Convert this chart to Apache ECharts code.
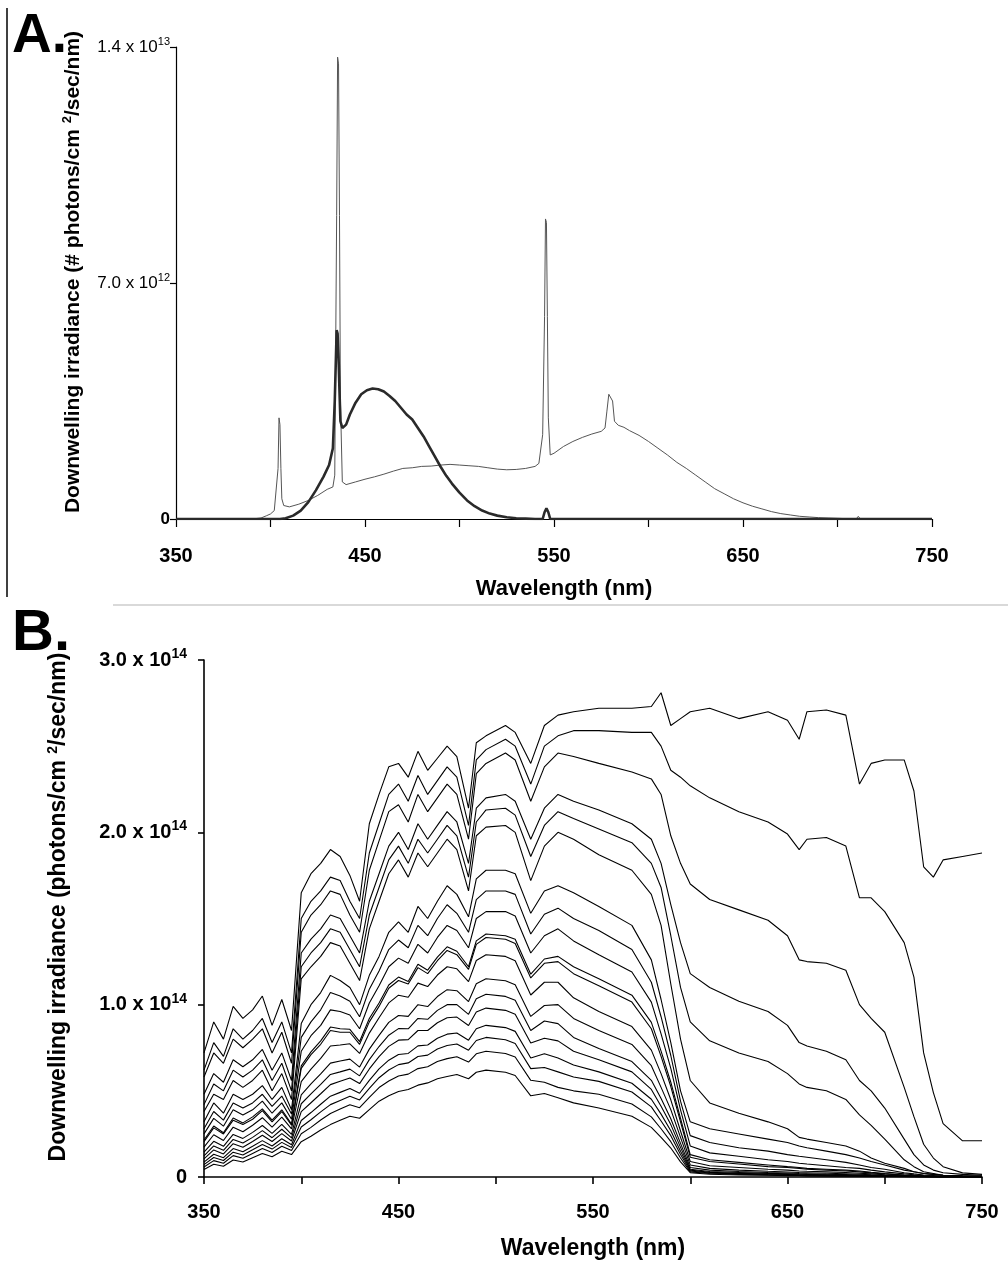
<!DOCTYPE html>
<html>
<head>
<meta charset="utf-8">
<script src="https://cdn.jsdelivr.net/npm/echarts@6/dist/echarts.min.js"></script>
<style>
html,body{margin:0;padding:0;background:#fff;}
#c{width:1008px;height:1272px;}
</style>
</head>
<body>
<div id="c"></div>
<script>
// ---------- Panel A data (units: 10^12 photons/cm2/sec/nm) ----------
const wlLamp = [350,390,395,398,400,402,403,404,404.5,405,405.5,406,407,410,415,420,425,430,433,434,435,435.5,436,436.5,437,438,440,445,450,455,460,465,470,475,480,485,490,495,500,505,510,515,520,525,530,535,540,542,544,545,545.5,546,546.5,547,548,550,555,560,565,570,575,577,578,579,580,581,582,584,587,590,595,600,605,610,615,620,625,630,635,640,645,650,655,660,665,670,675,680,685,690,695,700,705,710,711,712,720,750];
const irrLamp = [0,0,0.03,0.1,0.15,0.25,0.3,1.5,3.0,2.8,1.5,0.6,0.4,0.36,0.44,0.55,0.7,0.88,0.95,1.3,9,13.7,13.5,9,3.5,1.1,1.02,1.1,1.18,1.25,1.33,1.42,1.5,1.52,1.56,1.57,1.6,1.62,1.6,1.58,1.56,1.52,1.48,1.46,1.47,1.5,1.56,1.65,2.5,6,8.9,8.8,6,3,1.9,1.95,2.15,2.3,2.42,2.52,2.6,2.7,3.2,3.7,3.75,3.5,2.9,2.78,2.72,2.62,2.48,2.3,2.1,1.9,1.68,1.5,1.3,1.1,0.9,0.75,0.6,0.48,0.38,0.3,0.22,0.16,0.12,0.08,0.06,0.04,0.03,0.02,0.01,0.01,0.08,0.01,0,0];

const wlBlue = [350,405,408,412,416,420,424,428,431,433,434,435,435.5,436,436.5,437,438,440,442,445,448,451,454,457,460,463,466,469,472,475,478,481,484,487,490,493,496,500,504,508,512,516,520,525,530,535,540,544,545,546,547,548,550,750];
const irrBlue = [0,0,0.02,0.1,0.25,0.5,0.85,1.25,1.6,2.1,3.5,5.6,5.5,4.8,3.8,2.9,2.7,2.8,3.1,3.45,3.7,3.82,3.87,3.85,3.78,3.65,3.5,3.3,3.1,2.95,2.7,2.45,2.15,1.85,1.55,1.28,1.05,0.78,0.55,0.38,0.25,0.16,0.1,0.05,0.02,0.01,0,0,0.2,0.32,0.2,0,0,0];

const xTickLabels = [350,450,550,650,750];
const yTickValA = [0,7,14];
const yTickBaseA = ['0','7.0 x 10','1.4 x 10'];
const yTickExpA = ['','12','13'];

// ---------- Panel B data (units: 10^12 photons/cm2/sec/nm) ----------
const wlB = [350,355,360,365,370,375,380,385,390,395,400,405,410,415,420,425,430,435,440,445,450,455,460,465,470,475,480,486,490,495,505,510,518,525,532,540,553,570,580,585,590,595,600,610,625,640,650,656,660,670,680,687,693,700,710,715,720,725,730,740,750];

const depth01 = [72,90,80,99,92,97,105,88,103,85,165,176,182,190,186,175,160,205,222,238,240,232,247,236,243,250,244,214,252,256,262,258,240,262,268,270,272,272,273,281,262,266,270,272,266,270,265,254,270,271,268,228,240,242,242,224,180,174,184,186,188];
const depth02 = [62,78,70,86,80,85,92,78,90,72,150,160,166,174,172,160,150,188,205,222,228,218,233,222,230,238,232,204,242,248,254,250,228,250,256,259,259,258,258,250,236,232,227,220,212,206,199,190,196,197,192,162,162,154,136,116,72,49,31,21,21];
const depth03 = [58,72,66,80,75,80,86,72,84,66,142,152,158,166,164,152,142,178,195,212,216,206,222,212,220,228,222,196,234,240,246,242,218,238,246,244,240,235,231,222,198,182,170,161,155,149,140,126,125,124,120,100,92,84,52,35,19,11,6,2.4,1.5];
const depth04 = [48,60,55,68,64,68,74,62,72,56,130,138,144,152,150,140,130,160,176,192,200,190,205,196,204,212,206,182,214,220,222,218,196,214,222,218,213,205,196,182,158,136,118,110,102,96,88,78,76,73,68,56,50,40,22,13,7,4,2.5,1.5,1];
const depth05 = [42,54,50,62,58,62,68,56,66,50,122,130,136,144,142,132,122,152,168,184,192,182,196,188,196,204,198,174,206,213,214,210,186,204,212,208,202,194,182,168,140,110,90,79,72,67,60,54,52,50,45,36,30,22,10,6,3,2,1,0.7,0.5];
const depth06 = [38,48,45,56,52,56,62,50,60,45,115,122,128,136,134,124,114,144,160,176,184,174,188,180,188,196,190,166,198,203,204,200,172,192,200,196,187,178,164,146,112,80,56,43,37,32,28,23,22,20,18,15,11,8,5,3,2,1.5,1,0.7,0.5];
const depth07 = [32,43,37,48,45,48,53,45,52,39,89,100,107,117,114,110,100,117,128,142,148,142,157,150,160,169,164,151,173,178,178,176,153,166,169,165,157,146,126,103,78,50,32,28,25,22,20,18,17,15,13,11,9,7,4,3,2,1.5,1,0.6,0.3];
const depth08 = [28,38,33,43,40,43,48,41,47,36.5,81,90,97,107,105,102,93,109,119.5,132,137.5,133,146,140,150,158,153,142,161,166,166,164,141,152.5,156,150,143,132,113,93,70.5,44,24,20,17,15,13,12,11.5,10,8.5,7,5.5,4.5,2.5,1.8,1.2,0.9,0.6,0.4,0.2];
const depth09 = [25,34,29.5,39,36,39,44,37,43,33.5,73,82,88,97,96,94,86,101,111,122,127,124,135,130,139,146,143,133,150,154,154,151.5,130,140,144,137,129,119,101.5,83,63,39,18,14,12,10,9,8,7.5,6.5,5.5,5,4,3,1.8,1.3,0.9,0.6,0.4,0.2,0.1];
const depth10 = [21.5,29.6,25.7,34.2,31.4,34.9,39.5,33,39,30.7,64.5,72.6,79,87,86,85.7,78.6,92,101,111.4,116,113.5,123.4,120,127.6,133.6,131,122,137,141,140,138,117.7,126.5,128,122,115,105.5,89.7,73,55,34,13,10,8.5,7,6,5.5,5,4.5,4,3.5,2.8,2,1.2,0.9,0.6,0.4,0.3,0.2,0.1];
const depth11 = [20.5,28.5,25,33,30.5,33.5,38.5,32,38,30,63,71,77,85,84,84,77,90,99,109.5,114,112,121.5,118,125.5,131.5,129,120.5,135,139,138,135.5,115.5,124,125,118,111,101.5,86,70,52.5,32,11.5,9,7.5,6,5.5,5,4.5,4,3.5,3,2.4,1.8,1,0.8,0.5,0.3,0.2,0.15,0.1];
const depth12 = [17.3,24.5,21.2,28.9,26.3,30,34.4,29,34.7,27.9,55.3,62.6,68.8,76,76.6,77.3,71.7,83.5,92.4,101,105.5,104.3,112.5,110.5,117.2,122,120.8,113.4,125.6,129,128,125.5,105.6,113,113,104,96,87.3,73.6,60,44.8,26.7,9,6.5,5.5,4.5,4,3.5,3.3,3,2.6,2.2,1.8,1.3,0.8,0.6,0.4,0.3,0.2,0.15,0.1];
const depth13 = [14.4,20.7,17.8,24.7,22.4,25.9,29.9,25.3,30.5,24.7,47.7,54,59.8,66.1,67.3,68.4,63.8,74.2,82.2,89.7,93.7,93.2,100,98.9,104.7,108.7,108.1,101.8,112.1,115,113.9,111.6,93.2,99.5,100,92,85,76.9,64.6,52,39.1,23,7,5,4,3.3,2.9,2.6,2.5,2.2,1.9,1.6,1.3,1,0.6,0.45,0.3,0.2,0.15,0.1,0.05];
const depth14 = [12.3,18,15.5,21.8,19.7,23,26.9,22.8,27.7,22.7,42.5,48.2,53.7,59.5,61,62.6,58.7,68.1,75.7,82.3,86.1,86,92,91.5,96.7,100,100,94.4,103.5,106,104.8,102.5,85,90.5,89,81,74.5,67,56.1,45.5,33.8,19.5,5.5,4,3.2,2.6,2.3,2,1.9,1.6,1.4,1.2,1,0.8,0.5,0.35,0.25,0.15,0.1,0.07,0.05];
const depth15 = [10.5,15.7,13.4,19.3,17.3,20.6,24.2,20.6,25.2,20.9,37.9,43.1,48.3,53.6,55.6,57.5,54.2,62.7,69.9,75.8,79.4,79.7,85,85,89.5,92.4,92.8,87.9,95.7,98,96.7,94.4,77.7,80.5,79,73,68,61,50.8,41,30.4,17.2,4.5,3.2,2.6,2.1,1.8,1.6,1.5,1.3,1.1,1,0.8,0.6,0.4,0.3,0.2,0.15,0.1,0.07,0.05];
const depth16 = [8.6,13.2,11.2,16.5,14.7,17.8,21.1,18,22.2,18.7,32.8,37.4,42.2,46.9,49.1,51.3,48.6,56.1,62.7,67.8,71.1,71.7,76.1,76.6,80.5,82.9,83.6,79.4,86,88,86.7,84.5,69.1,71.5,69,65,61,54.4,45.1,36.5,26.8,15,4,2.7,2.1,1.7,1.5,1.3,1.2,1,0.9,0.8,0.65,0.5,0.3,0.22,0.15,0.1,0.08,0.05,0.04];
const depth17 = [7.2,11.3,9.6,14.4,12.8,15.8,18.9,16.2,20.1,17.1,29,33.2,37.8,42,44.4,46.8,44.7,51.4,57.6,62.1,65.2,66.2,69.9,70.7,74.3,76.3,77.2,73.6,79.2,81,79.6,77.5,62.9,63.5,61,58,55.5,49.3,40.7,32.5,24,13.1,3.5,2.3,1.8,1.4,1.2,1.1,1,0.9,0.8,0.7,0.55,0.4,0.25,0.18,0.12,0.08,0.06,0.04,0.03];
const depth18 = [5.8,9.5,8,12.4,10.9,13.7,16.5,14.2,17.8,15.4,25.1,28.8,33.1,36.8,39.4,41.9,40.2,46.2,51.9,55.7,58.6,59.7,62.9,64,67,68.7,69.8,66.7,71.5,73,71.7,69.6,56.1,55,52,50,48,42.4,34.9,28,20.5,11,3,2,1.5,1.2,1,0.9,0.8,0.7,0.6,0.5,0.4,0.3,0.2,0.15,0.1,0.07,0.05,0.03,0.02];
const depth19 = [4.3,7.4,6.2,9.9,8.7,11.2,13.6,11.8,14.9,13,20.5,23.6,27.3,30.4,32.9,35.3,34.1,39.1,44,47.1,49.6,50.8,53.3,54.6,57,58.3,59.5,57,60.8,62,60.8,58.9,47.1,48.5,46,43,40,35.2,28.8,23,16.8,8.8,2.5,1.6,1.2,1,0.8,0.7,0.6,0.5,0.45,0.4,0.32,0.25,0.15,0.12,0.08,0.06,0.04,0.03,0.02];

const yTickValB = [0,100,200,300];
const yTickBaseB = ['0','1.0 x 10','2.0 x 10','3.0 x 10'];
const yTickExpB = ['','14','14','14'];

// ---------- Chart ----------
const FONT = 'Arial, "Liberation Sans", Helvetica, sans-serif';
const chart = echarts.init(document.getElementById('c'), null, {renderer: 'canvas', width: 1008, height: 1272});

function yFmt(vals, bases, exps) {
  return function (v) {
    const i = vals.indexOf(v);
    if (i < 0) return '';
    if (!exps[i]) return '{z|' + bases[i] + '}';
    return '{m|' + bases[i] + '}{s|' + exps[i] + '}';
  };
}
function xFmt(v) { return xTickLabels.indexOf(v) >= 0 ? String(v) : ''; }
function pairs(xs, ys) { return xs.map(function (x, i) { return [x, ys[i]]; }); }

const specB = [depth01,depth02,depth03,depth04,depth05,depth06,depth07,depth08,depth09,depth10,depth11,depth12,depth13,depth14,depth15,depth16,depth17,depth18,depth19];

const seriesB = specB.map(function (arr, k) {
  return {
    name: 'B' + k, type: 'line', xAxisIndex: 1, yAxisIndex: 1,
    data: pairs(wlB, arr), showSymbol: false, symbol: 'none', silent: true,
    lineStyle: {color: '#000', width: 1.1}
  };
});

const option = {
  animation: false,
  backgroundColor: '#fff',
  grid: [
    {left: 176, top: 47, width: 756, height: 472},
    {left: 204, top: 660, width: 778, height: 517}
  ],
  xAxis: [
    {gridIndex: 0, type: 'value', min: 350, max: 750, interval: 50,
     axisLine: {show: true, onZero: false, lineStyle: {color: '#000', width: 1.2}},
     axisTick: {show: true, length: 8, lineStyle: {color: '#000', width: 1.2}},
     splitLine: {show: false},
     axisLabel: {margin: 27, color: '#000', fontFamily: FONT, fontWeight: 'bold', fontSize: 20, formatter: xFmt}},
    {gridIndex: 1, type: 'value', min: 350, max: 750, interval: 50,
     axisLine: {show: true, onZero: false, lineStyle: {color: '#000', width: 1.6}},
     axisTick: {show: true, length: 7, lineStyle: {color: '#000', width: 1.6}},
     splitLine: {show: false},
     axisLabel: {margin: 25, color: '#000', fontFamily: FONT, fontWeight: 'bold', fontSize: 20, formatter: xFmt}}
  ],
  yAxis: [
    {gridIndex: 0, type: 'value', min: 0, max: 14, interval: 7,
     axisLine: {show: true, lineStyle: {color: '#000', width: 1.2}},
     axisTick: {show: true, length: 6, lineStyle: {color: '#000', width: 1.2}},
     splitLine: {show: false},
     axisLabel: {margin: 6, formatter: yFmt(yTickValA, yTickBaseA, yTickExpA),
       rich: {
         z: {fontFamily: FONT, fontSize: 17, fontWeight: 'bold', color: '#000'},
         m: {fontFamily: FONT, fontSize: 17, color: '#000'},
         s: {fontFamily: FONT, fontSize: 11, color: '#000', padding: [0, 0, 10, 0]}
       }}},
    {gridIndex: 1, type: 'value', min: 0, max: 300, interval: 100,
     axisLine: {show: true, lineStyle: {color: '#000', width: 1.6}},
     axisTick: {show: true, length: 6, lineStyle: {color: '#000', width: 1.6}},
     splitLine: {show: false},
     axisLabel: {margin: 17, formatter: yFmt(yTickValB, yTickBaseB, yTickExpB),
       rich: {
         z: {fontFamily: FONT, fontSize: 20, fontWeight: 'bold', color: '#000'},
         m: {fontFamily: FONT, fontSize: 20, fontWeight: 'bold', color: '#000'},
         s: {fontFamily: FONT, fontSize: 14, fontWeight: 'bold', color: '#000', padding: [0, 0, 12, 0]}
       }}}
  ],
  series: [
    {name: 'lamp', type: 'line', xAxisIndex: 0, yAxisIndex: 0, data: pairs(wlLamp, irrLamp),
     showSymbol: false, symbol: 'none', silent: true, lineStyle: {color: '#555', width: 1}},
    {name: 'blue', type: 'line', xAxisIndex: 0, yAxisIndex: 0, data: pairs(wlBlue, irrBlue),
     showSymbol: false, symbol: 'none', silent: true, lineStyle: {color: '#2a2a2a', width: 2.6}}
  ].concat(seriesB),
  graphic: [
    {type: 'line', shape: {x1: 7, y1: 8, x2: 7, y2: 597}, style: {stroke: '#000', lineWidth: 1.5}, silent: true},
    {type: 'line', shape: {x1: 113, y1: 605, x2: 1008, y2: 605}, style: {stroke: '#d9d9d9', lineWidth: 2}, silent: true},
    {type: 'text', x: 12, y: 37, silent: true,
     style: {text: 'A.', fill: '#000', fontFamily: FONT, fontWeight: 'bold', fontSize: 55, align: 'left', verticalAlign: 'middle'}},
    {type: 'text', x: 12, y: 634, silent: true,
     style: {text: 'B.', fill: '#000', fontFamily: FONT, fontWeight: 'bold', fontSize: 58, align: 'left', verticalAlign: 'middle'}},
    {type: 'text', x: 73, y: 272, rotation: Math.PI / 2, silent: true,
     style: {text: '{m|Downwelling irradiance (# photons/cm }{s|2}{m|/sec/nm)}', align: 'center', verticalAlign: 'middle', fill: '#000',
       rich: {
         m: {fontFamily: FONT, fontSize: 21, fontWeight: 'bold', fill: '#000'},
         s: {fontFamily: FONT, fontSize: 13, fontWeight: 'bold', fill: '#000', padding: [0, 0, 12, 0]}
       }}},
    {type: 'text', x: 59, y: 907, rotation: Math.PI / 2, silent: true,
     style: {text: '{m|Downwelling irradiance (photons/cm }{s|2}{m|/sec/nm)}', align: 'center', verticalAlign: 'middle', fill: '#000',
       rich: {
         m: {fontFamily: FONT, fontSize: 23, fontWeight: 'bold', fill: '#000'},
         s: {fontFamily: FONT, fontSize: 14, fontWeight: 'bold', fill: '#000', padding: [0, 0, 12, 0]}
       }}},
    {type: 'text', x: 564, y: 589, silent: true,
     style: {text: 'Wavelength (nm)', fill: '#000', fontFamily: FONT, fontWeight: 'bold', fontSize: 22, align: 'center', verticalAlign: 'middle'}},
    {type: 'text', x: 593, y: 1249, silent: true,
     style: {text: 'Wavelength (nm)', fill: '#000', fontFamily: FONT, fontWeight: 'bold', fontSize: 23, align: 'center', verticalAlign: 'middle'}}
  ]
};
chart.setOption(option);
</script>
</body>
</html>
